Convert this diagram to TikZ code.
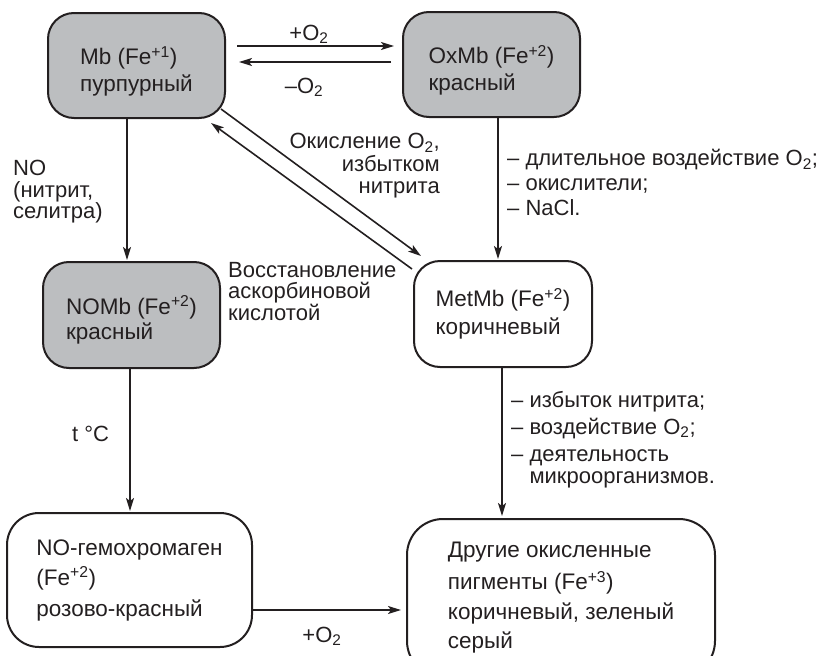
\documentclass[tikz,border=0pt]{standalone}
\usepackage{fontspec}
\setmainfont{Liberation Sans}
\usetikzlibrary{arrows.meta,calc}
\definecolor{boxgray}{HTML}{BCBEC0}
\definecolor{ink}{HTML}{231F20}
\tikzset{
  stbox/.style={draw=ink, line width=2pt, rounded corners=26pt, align=left, inner sep=0pt,
    font=\fontsize{22.5}{24}\selectfont, text=ink},
  grayfill/.style={fill=boxgray},
  conn/.style={draw=ink, line width=1.6pt, -{Stealth[length=13pt,width=8pt,inset=3pt]}},
  lbl/.style={font=\fontsize{22}{22}\selectfont, text=ink, inner sep=0pt},
}
\begin{document}
\begin{tikzpicture}[x=1pt,y=-1pt]
\useasboundingbox (0,0) rectangle (823,656);
\clip (0,0) rectangle (823,656);
% boxes
\node[stbox, grayfill, minimum width=177pt, minimum height=105pt] (mb) at (136.5,65.5)
  {\rule{0pt}{30pt}Mb (Fe\textsuperscript{+1})\\[3pt]пурпурный};
\node[stbox, grayfill, minimum width=177pt, minimum height=105pt] (oxmb) at (491.5,64.5)
  {\rule{0pt}{30pt}OxMb (Fe\textsuperscript{+2})\\[3pt]красный};
\node[stbox, grayfill, minimum width=177pt, minimum height=106pt] (nomb) at (131.5,315)
  {\rule{0pt}{28pt}NOMb (Fe\textsuperscript{+2})\\[1pt]красный};
\node[stbox, minimum width=178pt, minimum height=106pt] (metmb) at (503,314)
  {MetMb (Fe\textsuperscript{+2})\\[4pt]коричневый};
\node[stbox, rounded corners=32pt, minimum width=245pt, minimum height=134pt] (nogem) at (129.5,580)
  {NO-гемохромаген\\[6pt](Fe\textsuperscript{+2})\\[7pt]розово-красный};
\node[stbox, rounded corners=36pt, minimum width=308pt, minimum height=158pt] (other) at (561,598)
  {Другие окисленные\\[8pt]пигменты (Fe\textsuperscript{+3})\\[6pt]коричневый, зеленый\\[5pt]серый};
% connectors
\draw[conn, shorten <=11pt, shorten >=8pt] ([yshift=19.5pt]mb.east) -- ([yshift=19.5pt]mb.east -| oxmb.west);
\draw[conn, shorten <=11pt, shorten >=13pt] ([yshift=3.5pt]mb.east -| oxmb.west) -- ([yshift=3.5pt]mb.east);
\draw[conn, shorten >=1pt] ([xshift=-9.5pt]mb.south) -- ([xshift=-9.5pt]mb.south |- nomb.north);
\draw[conn, shorten >=1pt] ([xshift=-1.5pt]nomb.south) -- ([xshift=-1.5pt]nomb.south |- nogem.north);
\draw[conn, shorten >=1pt] ([xshift=6.5pt]oxmb.south) -- ([xshift=6.5pt]oxmb.south |- metmb.north);
\draw[conn, shorten >=2pt] ([xshift=-1pt]metmb.south) -- ([xshift=-1pt]metmb.south |- other.north);
\draw[conn, shorten >=5pt] ([yshift=-30pt]nogem.east) -- ([yshift=-30pt]nogem.east -| other.west);
\draw[conn] ($(mb.south east)+(-5,-10)$) -- ($(metmb.north west)+(8,-4)$);
\draw[conn] ($(metmb.north west)+(-1,9)$) -- ($(mb.south east)+(-15,4)$);
% labels
\node[lbl, anchor=base] (lplus) at (309,40) {+O\textsubscript{2}};
\node[lbl, anchor=base] (lminus) at (304,93) {–O\textsubscript{2}};
\node[lbl, anchor=base] (lplusb) at (322,642) {+O\textsubscript{2}};
\node[lbl, anchor=base west] (ltc) at (72,441) {t °C};
\node[lbl, anchor=north west, align=left, font=\fontsize{22}{21.5}\selectfont] (lno) at (13,160)
  {NO\\(нитрит,\\селитра)};
\node[lbl, anchor=north east, align=right, font=\fontsize{22}{22.5}\selectfont] (lok) at (440,133)
  {Окисление O\textsubscript{2},\\избытком\\нитрита};
\node[lbl, anchor=north west, align=left, font=\fontsize{22}{21.5}\selectfont] (lvos) at (228,262)
  {Восстановление\\аскорбиновой\\кислотой};
\node[lbl, anchor=north west, align=left, font=\fontsize{22}{25}\selectfont] (loxl) at (507,149)
  {– длительное воздействие O\textsubscript{2};\\– окислители;\\– NaCl.};
\node[lbl, anchor=north west, align=left, font=\fontsize{22}{22}\selectfont] (lmetl) at (511,391)
  {– избыток нитрита;\\[5pt]– воздействие O\textsubscript{2};\\[5pt]– деятельность\\\phantom{– }микроорганизмов.};
\end{tikzpicture}
\end{document}
